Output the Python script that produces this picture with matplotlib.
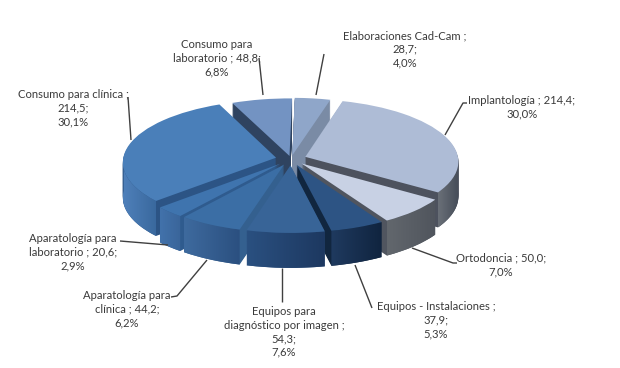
import numpy as np
import matplotlib
matplotlib.use("Agg")
import matplotlib.pyplot as plt
from matplotlib.patches import Polygon
from matplotlib.colors import LinearSegmentedColormap
from matplotlib.transforms import Transform, Affine2D

plt.rcParams['font.family'] = ['Lato', 'DejaVu Sans']

categories = ["Elaboraciones Cad-Cam", "Implantología", "Ortodoncia", "Equipos - Instalaciones",
              "Equipos para diagnóstico por imagen", "Aparatología para clínica",
              "Aparatología para laboratorio", "Consumo para clínica", "Consumo para laboratorio"]
values = [28.7, 214.4, 50.0, 37.9, 54.3, 44.2, 20.6, 214.5, 48.8]
labels = ["Elaboraciones Cad-Cam ;\n28,7;\n4,0%",
          "Implantología ; 214,4;\n30,0%",
          "Ortodoncia ; 50,0;\n7,0%",
          "Equipos - Instalaciones ;\n37,9;\n5,3%",
          "Equipos para\ndiagnóstico por imagen ;\n54,3;\n7,6%",
          "Aparatología para\nclínica ; 44,2;\n6,2%",
          "Aparatología para\nlaboratorio ; 20,6;\n2,9%",
          "Consumo para clínica ;\n214,5;\n30,1%",
          "Consumo para\nlaboratorio ; 48,8;\n6,8%"]
top_colors = ["#8fa6c9", "#aebcd6", "#c8d1e4", "#2d5484", "#386497", "#3b6ea5", "#3f74ae", "#4a7fb9", "#7393c2"]
face_colors = ["#7a8ba5", "#4d525e", "#50555f", "#11263f", "#2a5080", "#34608f", "#2f5b8e", "#2c5485", "#2f4360"]
wall_left = ["#7a8ba5", "#6a7078", "#62676d", "#1f3a5f", "#2a5080", "#3e6a9e", "#4272ab", "#4f80ba", "#5a76a0"]
wall_right = ["#7a8ba5", "#454c58", "#50555d", "#10243f", "#1d3860", "#2b5080", "#3a659a", "#39689d", "#5a76a0"]
label_xy = [(405, 49), (522, 107), (501, 265), (436, 320), (284, 332), (127, 309), (73, 252), (73, 108), (217, 58)]
leaders = [[(324, 54), (316, 95)],
           [(467, 103), (463, 103), (445, 135)],
           [(412, 248), (453, 263), (457, 263)],
           [(355, 265), (372, 308)],
           [(282, 268), (282, 302)],
           [(207, 260), (177, 296), (171, 297)],
           [(120, 241), (168, 245)],
           [(128, 97), (131, 140)],
           [(259, 58), (263, 95)]]
explode = [0.06, 0.1, 0.1, 0.1, 0.1, 0.1, 0.1, 0.1, 0.05]

W, H = 620, 368
CX, CY, RX, RY = 291, 159, 153, 62
DEPTH = 35 / RY
LAYERS = 36
K = 0.07
START = 89


class Perspective(Transform):
    input_dims = output_dims = 2
    is_affine = False
    has_inverse = False

    def transform_non_affine(self, v):
        v = np.asarray(v, float)
        s = 1 / (1 + K * v[:, 1])
        return np.c_[v[:, 0] * s, v[:, 1] * s]


persp = Perspective()
fig = plt.figure(figsize=(W / 100, H / 100), dpi=100, facecolor="white")
ax = fig.add_axes([0, 0, 1, 1])

top, _ = ax.pie(values, explode=explode, startangle=START, counterclock=False,
                colors=top_colors, radius=1, center=(0, 0))
depth_order = sorted(range(len(values)), key=lambda i: -top[i].center[1])
rank = {i: r for r, i in enumerate(depth_order)}
for i, w in enumerate(top):
    w.set_zorder(rank[i] * 100 + 90)
    w.set_transform(persp + ax.transData)

for k, d in enumerate(np.linspace(DEPTH, 1 / RY, LAYERS)):
    layer, _ = ax.pie(values, explode=explode, startangle=START, counterclock=False,
                      colors=face_colors, radius=1, center=(0, 0))
    for i, w in enumerate(layer):
        w.set_zorder(rank[i] * 100 + 1 + k)
        w.set_transform(persp + Affine2D().translate(0, -d) + ax.transData)

# curved outer walls (front-facing part only) with a left-to-right shade
for i, w in enumerate(top):
    th = np.radians(np.linspace(w.theta1, w.theta2, 200))
    th = th[np.sin(th) <= 0.03]
    if th.size < 2:
        continue
    arc = persp.transform(np.c_[w.center[0] + np.cos(th), w.center[1] + np.sin(th)])
    x, y = arc[:, 0], arc[:, 1]
    pts = np.r_[np.c_[x, y], np.c_[x, y - DEPTH][::-1]]
    cmap = LinearSegmentedColormap.from_list("w", [wall_left[i], wall_right[i]])
    im = ax.imshow(np.linspace(0, 1, 64)[None, :], cmap=cmap, aspect="auto",
                   extent=(x.min(), x.max(), pts[:, 1].min(), pts[:, 1].max()),
                   zorder=rank[i] * 100 + 80, interpolation="bilinear")
    im.set_clip_path(Polygon(pts, closed=True, transform=ax.transData))

ax.set_aspect("auto")
ax.set_xlim(-CX / RX, (W - CX) / RX)
ax.set_ylim((CY - H) / RY, CY / RY)
ax.axis("off")

ov = fig.add_axes([0, 0, 1, 1], facecolor="none")
ov.set_xlim(0, W)
ov.set_ylim(H, 0)
ov.axis("off")
for path, lab, (tx, ty) in zip(leaders, labels, label_xy):
    px, py = zip(*path)
    ov.plot(px, py, color="#404040", lw=1.0, solid_capstyle="butt")
    ov.text(tx, ty, lab, ha="center", va="center", fontsize=8.1, color="#3a3a3a", linespacing=1.28)

fig.savefig("out.png", dpi=100, facecolor="white")
